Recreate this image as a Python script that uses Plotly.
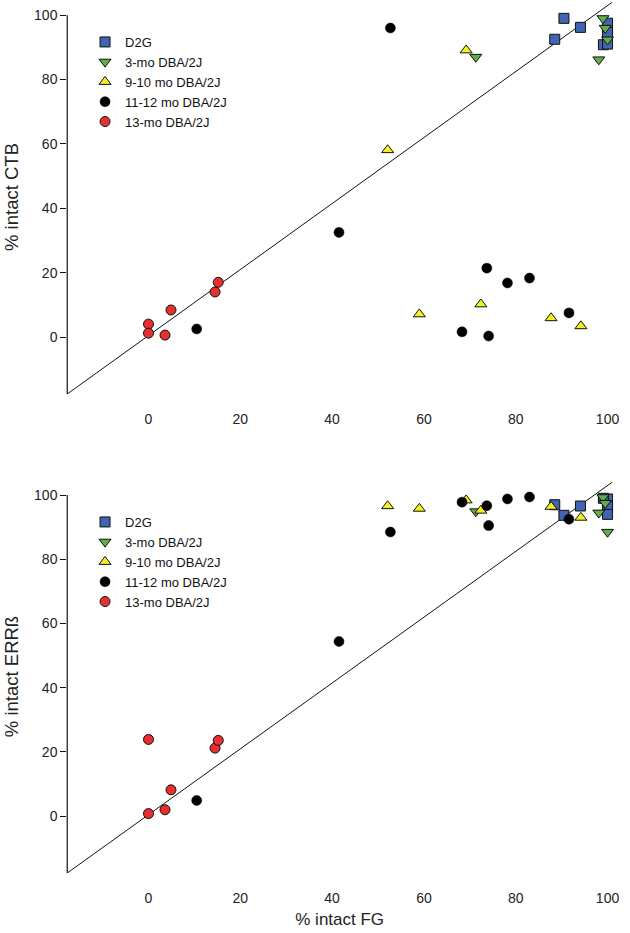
import plotly.graph_objects as go

# ---------------- data ----------------
group_names = ["D2G", "3-mo DBA/2J", "9-10 mo DBA/2J", "11-12 mo DBA/2J", "13-mo DBA/2J"]

d2g_fg  = [90.5, 94.1, 88.5, 100.0, 100.0, 99.1, 100.0]
d2g_ctb = [99.0, 96.2, 92.5, 97.5, 94.6, 90.8, 91.0]
d2g_err = [93.7, 96.6, 97.0, 98.8, 96.4, 99.0, 94.0]

mo3_fg  = [71.3, 99.0, 99.5, 100.0, 98.1]
mo3_ctb = [87.0, 99.0, 96.0, 92.4, 86.2]
mo3_err = [94.9, 99.3, 97.5, 88.5, 94.5]

mo9_fg  = [52.1, 59.0, 69.2, 72.4, 87.7, 94.2]
mo9_ctb = [58.1, 7.1, 89.1, 10.2, 5.9, 3.4]
mo9_err = [96.6, 95.8, 98.4, 95.2, 96.4, 93.0]

mo11_fg  = [52.7, 41.5, 10.5, 68.3, 73.7, 74.1, 78.2, 83.0, 91.6]
mo11_ctb = [96.0, 32.5, 2.5, 1.6, 21.4, 0.3, 16.8, 18.3, 7.5]
mo11_err = [88.5, 54.4, 4.9, 97.8, 96.7, 90.5, 98.8, 99.4, 92.5]

mo13_fg  = [0.0, 0.0, 3.6, 4.9, 14.5, 15.2]
mo13_ctb = [4.0, 1.2, 0.6, 8.4, 14.0, 17.0]
mo13_err = [23.9, 0.8, 2.0, 8.2, 21.2, 23.6]

diag_x = [-18.0, 101.0]
diag_y = [-18.0, 104.0]

tick_vals = [0, 20, 40, 60, 80, 100]
tick_text = ["0", "20", "40", "60", "80", "100"]

# ---------------- styles ----------------
FONT = "Liberation Sans, Arial, sans-serif"
styles = [
    dict(symbol="square", color="#4263b0", size=10, line=dict(color="#111", width=1)),
    dict(symbol="triangle-down", color="#5fae46", size=10.5, line=dict(color="#111", width=1)),
    dict(symbol="triangle-up", color="#f2f21c", size=10.5, line=dict(color="#111", width=1)),
    dict(symbol="circle", color="#000000", size=10, line=dict(color="#000", width=0.5)),
    dict(symbol="circle", color="#e5302f", size=10, line=dict(color="#111", width=1)),
]

fg_sets = [d2g_fg, mo3_fg, mo9_fg, mo11_fg, mo13_fg]
ctb_sets = [d2g_ctb, mo3_ctb, mo9_ctb, mo11_ctb, mo13_ctb]
err_sets = [d2g_err, mo3_err, mo9_err, mo11_err, mo13_err]

fig = go.Figure()

# diagonal reference lines
fig.add_trace(go.Scatter(x=diag_x, y=diag_y, mode="lines", line=dict(color="#111", width=1),
                         showlegend=False, hoverinfo="skip", xaxis="x", yaxis="y"))
fig.add_trace(go.Scatter(x=diag_x, y=diag_y, mode="lines", line=dict(color="#111", width=1),
                         showlegend=False, hoverinfo="skip", xaxis="x2", yaxis="y2"))

for name, st, fx, cy in zip(group_names, styles, fg_sets, ctb_sets):
    fig.add_trace(go.Scatter(x=fx, y=cy, mode="markers", name=name, marker=st,
                             xaxis="x", yaxis="y", legend="legend", cliponaxis=False))
for name, st, fx, ey in zip(group_names, styles, fg_sets, err_sets):
    fig.add_trace(go.Scatter(x=fx, y=ey, mode="markers", name=name, marker=st,
                             xaxis="x2", yaxis="y2", legend="legend2", cliponaxis=False))

W, H = 630, 933
xr = [-17.7, 101.0]
yr = [-17.7, 104.7]
xdom = [68 / W, 619 / W]
top_dom = [1 - 394 / H, 1.0]
bot_dom = [1 - 873 / H, 1 - 480 / H]

def xaxis_cfg(anchor, title=None):
    d = dict(domain=xdom, range=xr, anchor=anchor, showline=False, showgrid=False, zeroline=False,
             ticks="outside", ticklen=12, tickcolor="rgba(0,0,0,0)",
             tickvals=tick_vals, ticktext=tick_text,
             tickfont=dict(family=FONT, size=14, color="#222"))
    if title:
        d["title"] = dict(text=title, font=dict(family=FONT, size=17, color="#222"), standoff=8)
    return d

def yaxis_cfg(dom, anchor, title):
    return dict(domain=dom, range=yr, anchor=anchor, showline=False, showgrid=False, zeroline=False,
                ticks="outside", ticklen=6, tickwidth=1, tickcolor="#111",
                tickvals=tick_vals, ticktext=tick_text,
                tickfont=dict(family=FONT, size=14, color="#222"),
                title=dict(text=title, font=dict(family=FONT, size=18.5, color="#222"), standoff=10))

legend_common = dict(font=dict(family=FONT, size=13, color="#111"), bgcolor="rgba(0,0,0,0)",
                     borderwidth=0, xanchor="left", yanchor="top", tracegroupgap=0)

fig.update_layout(
    width=W, height=H,
    margin=dict(l=0, r=0, t=0, b=0),
    paper_bgcolor="white", plot_bgcolor="white",
    xaxis=xaxis_cfg("y"),
    yaxis=yaxis_cfg(top_dom, "x", "% intact CTB"),
    xaxis2=xaxis_cfg("y2", "% intact FG"),
    yaxis2=yaxis_cfg(bot_dom, "x2", "% intact ERRß"),
    legend=dict(x=86 / W, y=1 - 27 / H, **legend_common),
    legend2=dict(x=86 / W, y=1 - 507 / H, **legend_common),
    shapes=[
        dict(type="line", xref="x domain", yref="y", x0=0, x1=0, y0=yr[0], y1=100,
             line=dict(color="#111", width=1.2)),
        dict(type="line", xref="x2 domain", yref="y2", x0=0, x1=0, y0=yr[0], y1=100,
             line=dict(color="#111", width=1.2)),
    ],
)

# remove the browser's default 8px page margin so the figure fills the window exactly
fig.write_html("out.html", config={"displayModeBar": False},
               post_script="document.body.style.margin='0px';")
